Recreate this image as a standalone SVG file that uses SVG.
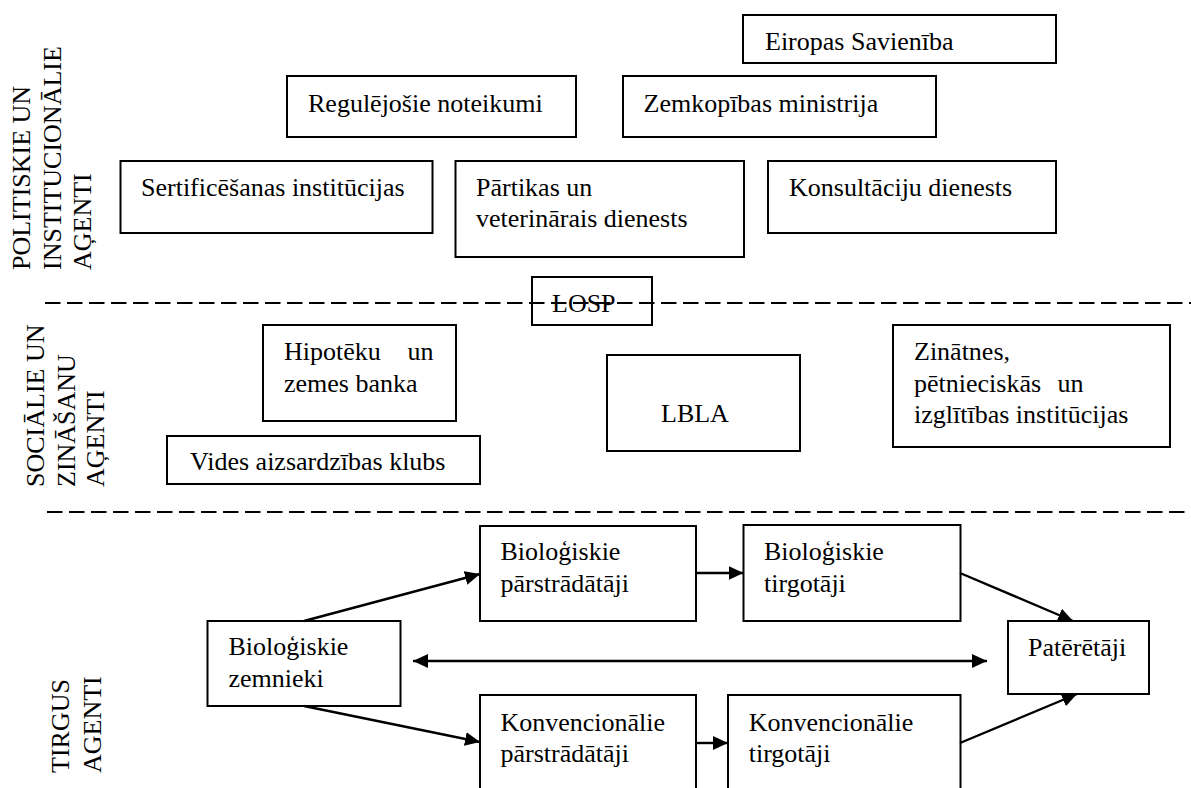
<svg xmlns="http://www.w3.org/2000/svg" width="1191" height="788" viewBox="0 0 1191 788">
<defs>
<style>
.t{font-family:'Liberation Serif','Times New Roman',serif;font-size:26px;fill:#000}
.box{fill:#fff;stroke:#000;stroke-width:2}
.dash{fill:none;stroke:#000;stroke-width:2.2;stroke-dasharray:15.5 6.5}
.arr{fill:none;stroke:#000;stroke-width:2.4}
</style>
<marker id="ah" markerUnits="userSpaceOnUse" markerWidth="16" markerHeight="15" refX="15" refY="7" orient="auto-start-reverse">
<path d="M0,0 L15,7 L0,14 z" fill="#000"/>
</marker>
</defs>
<rect width="1191" height="788" fill="#fff"/>
<g class="t" font-family="Liberation Serif, Times New Roman, serif" font-size="26">

<g id="labels">
<text transform="translate(30,270) rotate(-90)">POLITISKIE UN</text>
<text transform="translate(60.5,270) rotate(-90)">INSTITUCIONĀLIE</text>
<text transform="translate(91,270) rotate(-90)">AĢENTI</text>
<text transform="translate(44,487) rotate(-90)">SOCIĀLIE UN</text>
<text transform="translate(75,487) rotate(-90)">ZINĀŠANU</text>
<text transform="translate(104,487) rotate(-90)">AĢENTI</text>
<text transform="translate(69,773) rotate(-90)">TIRGUS</text>
<text transform="translate(101,773) rotate(-90)">AGENTI</text>
</g>

<g id="eiropas"><rect class="box" x="743" y="15" width="313" height="48"/><text x="765" y="50">Eiropas Savienība</text></g>
<g id="regulejosie"><rect class="box" x="287" y="76" width="289" height="61"/><text x="308" y="112">Regulējošie noteikumi</text></g>
<g id="zemkopibas"><rect class="box" x="623" y="76" width="313" height="61"/><text x="643.5" y="112">Zemkopības ministrija</text></g>
<g id="sertificesanas"><rect class="box" x="120.5" y="161" width="312" height="72"/><text x="141" y="196">Sertificēšanas institūcijas</text></g>
<g id="partikas"><rect class="box" x="455.5" y="161" width="288.5" height="96"/><text x="476" y="196">Pārtikas un<tspan x="476" y="227">veterinārais dienests</tspan></text></g>
<g id="konsultaciju"><rect class="box" x="768" y="161" width="288" height="72"/><text x="789" y="196">Konsultāciju dienests</text></g>
<g id="losp"><rect class="box" x="532" y="277" width="120" height="48"/><text x="552" y="312">LOSP</text></g>

<g id="hipoteku"><rect class="box" x="263" y="325" width="193" height="96"/><text x="284" y="360">Hipotēku<tspan x="407.6">un</tspan><tspan x="284" y="392">zemes banka</tspan></text></g>
<g id="vides"><rect class="box" x="167" y="436" width="313" height="48"/><text x="190" y="470">Vides aizsardzības klubs</text></g>
<g id="lbla"><rect class="box" x="607" y="355" width="193" height="96"/><text x="661" y="422">LBLA</text></g>
<g id="zinatnes"><rect class="box" x="893" y="325" width="277" height="122"/><text x="914" y="360">Zinātnes,<tspan x="914" y="391.5">pētnieciskās</tspan><tspan x="1057.5" y="391.5">un</tspan><tspan x="914" y="422.5">izglītības institūcijas</tspan></text></g>

<g id="biol-zemnieki"><rect class="box" x="207.5" y="621" width="193" height="85"/><text x="228.5" y="655">Bioloģiskie<tspan x="228.5" y="687">zemnieki</tspan></text></g>
<g id="biol-parstradataji"><rect class="box" x="480" y="526" width="216" height="95"/><text x="500.5" y="560">Bioloģiskie<tspan x="500.5" y="592">pārstrādātāji</tspan></text></g>
<g id="biol-tirgotaji"><rect class="box" x="743.5" y="525" width="217" height="96"/><text x="764" y="560">Bioloģiskie<tspan x="764" y="592">tirgotāji</tspan></text></g>
<g id="konv-parstradataji"><rect class="box" x="480" y="695" width="216" height="105"/><text x="500.5" y="731">Konvencionālie<tspan x="500.5" y="762">pārstrādātāji</tspan></text></g>
<g id="konv-tirgotaji"><rect class="box" x="728" y="695" width="232.5" height="105"/><text x="748.7" y="731">Konvencionālie<tspan x="748.7" y="762">tirgotāji</tspan></text></g>
<g id="pateretaji"><rect class="box" x="1008" y="621" width="141" height="73"/><text x="1028" y="656">Patērētāji</text></g>
</g>

<g id="connectors">
<line class="dash" x1="45" y1="303" x2="1191" y2="303"/>
<line class="dash" x1="47" y1="512" x2="1191" y2="512"/>
<line class="arr" x1="304" y1="621" x2="480" y2="574" marker-end="url(#ah)"/>
<line class="arr" x1="304" y1="706" x2="480" y2="742" marker-end="url(#ah)"/>
<line class="arr" x1="413" y1="661" x2="987" y2="661" marker-start="url(#ah)" marker-end="url(#ah)"/>
<line class="arr" x1="696" y1="573" x2="743.5" y2="573" marker-end="url(#ah)"/>
<line class="arr" x1="696" y1="743" x2="728" y2="743" marker-end="url(#ah)"/>
<line class="arr" x1="960" y1="573" x2="1073" y2="621" marker-end="url(#ah)"/>
<line class="arr" x1="960" y1="743" x2="1077" y2="694" marker-end="url(#ah)"/>
</g>
</svg>
